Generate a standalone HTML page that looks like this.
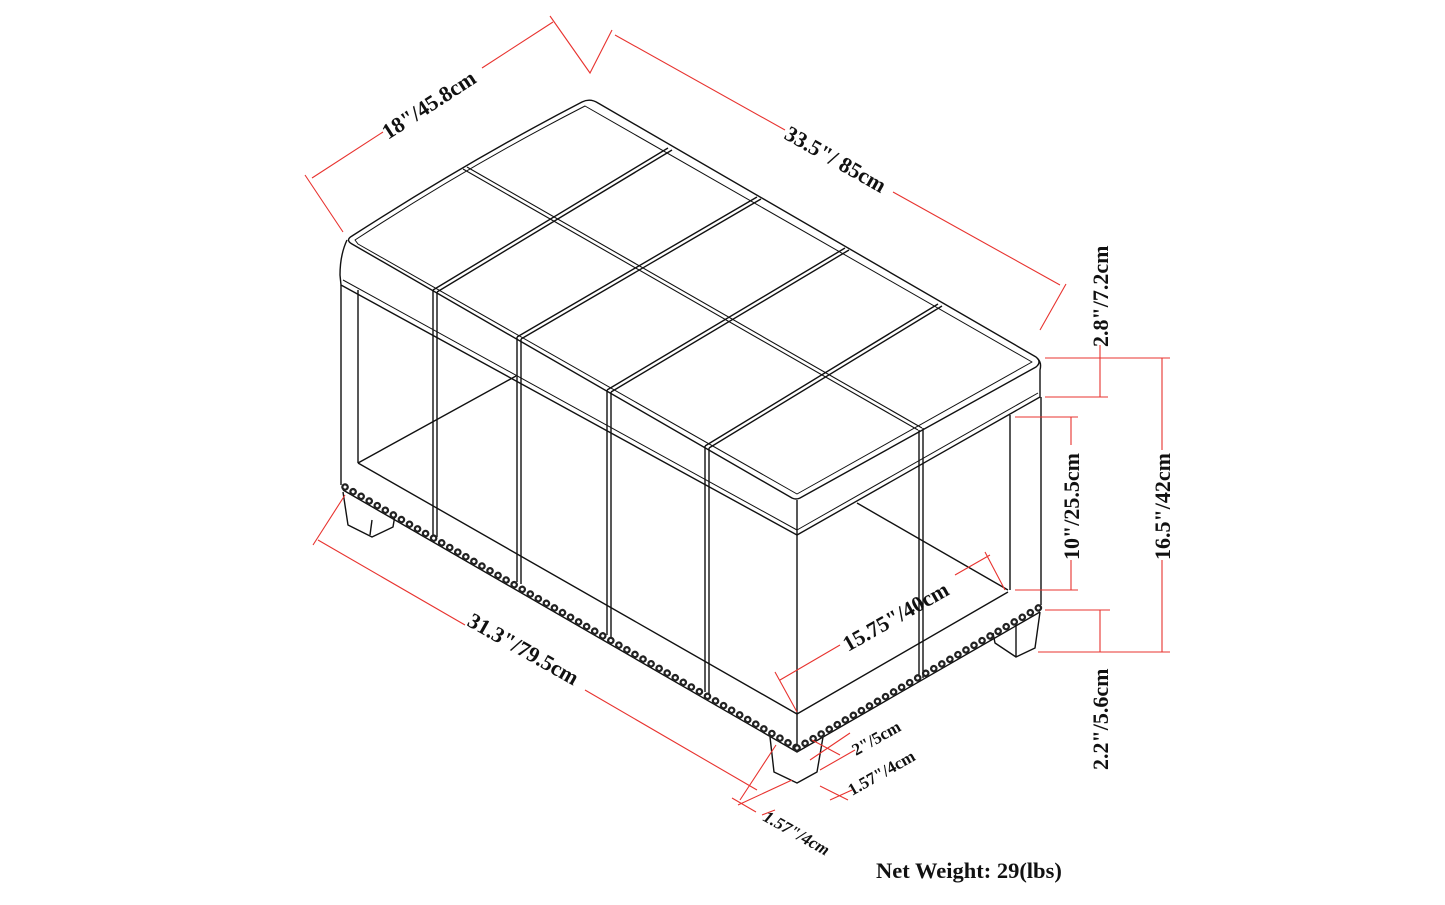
<!DOCTYPE html>
<html><head><meta charset="utf-8"><style>
html,body{margin:0;padding:0;background:#fff}
svg{display:block}
text{font-family:"Liberation Serif",serif;font-weight:bold;fill:#111}
</style></head><body>
<svg width="1445" height="905" viewBox="0 0 1445 905" xmlns="http://www.w3.org/2000/svg">
<g fill="none" stroke="#111" stroke-width="1.4" stroke-linejoin="round">
<path d="M352,236 Q470,160 582,102 Q590,98 598,103 L1036,357 Q1042,362 1036,367 L800,498 Q796,500 792,498 L352,244 Q345,240 352,236 Z"/>
<path d="M355,240 Q470,165 585,106 L1032,362 L797,494 L358,244 Z" stroke-width="1"/>
<path d="M347,240 Q340,255 340,275 L341,285 L797,535 L1040,397 L1040,370 Q1042,362 1037,358"/>
<path d="M343,280 L797,530 L1038,393" stroke-width="1"/>
<path d="M797,500 L797,535"/>
<path d="M341,285 L341,485 M358,290 L358,463 M797,535 L797,750 M1041,397 L1041,605 M1010,415 L1010,590"/>
<path d="M358,463 L797,714 L1008,592"/>
<path d="M358,463 L516,376 M857,503 L1008,590"/>
<path d="M343,490 L797,752 L1040,612"/>
<path d="M343,492 L348,525 L372,537 L393,527 L395,515"/>
<path d="M370,535 L372,520"/>
<path d="M770,737 L774,772 L797,783 L817,772 L823,737"/>
<path d="M993,633 L995,643 L1016,657 L1035,648 L1040,612 M1016,657 L1016,625"/>
<path d="M463,169 L918,430 M467,167 L922,428" stroke-width="1.1"/>
<path d="M433,290 L668,148 M437,292 L672,150"/>
<path d="M517,337 L757,197 M521,339 L761,199"/>
<path d="M607,390 L845,248 M611,392 L849,250"/>
<path d="M705,446 L938,304 M709,448 L942,306"/>
<path d="M433,290 L433,535 M437,292 L437,537 M517,337 L517,582 M521,339 L521,584 M607,390 L607,635 M611,392 L611,637 M705,446 L705,692 M709,448 L709,694 M919,430 L919,680 M923,428 L923,678"/>
</g>
<g stroke-linecap="round" fill="none">
<line x1="345" y1="487" x2="797" y2="748" stroke="#222" stroke-width="7.5" stroke-dasharray="0.1 9.2"/>
<line x1="345" y1="487" x2="797" y2="748" stroke="#fff" stroke-width="3" stroke-dasharray="0.1 9.2"/>
<line x1="797" y1="748" x2="1040" y2="607" stroke="#222" stroke-width="7.5" stroke-dasharray="0.1 9.2"/>
<line x1="797" y1="748" x2="1040" y2="607" stroke="#fff" stroke-width="3" stroke-dasharray="0.1 9.2"/>
</g>
<g stroke="#e8332f" stroke-width="1.1" fill="none">
<path d="M305,175 L343,232 M550,16 L590,73 L612,30"/>
<path d="M312,178 L383,132 M482,68 L553,22"/>
<path d="M615,35 L785,130 M893,192 L1060,285 M1040,330 L1066,284"/>
<path d="M1045,358 L1170,358 M1045,397 L1108,397 M1100,345 L1100,397"/>
<path d="M1015,417 L1078,417 M1015,590 L1078,590 M1071,417 L1071,445 M1071,560 L1071,590"/>
<path d="M1045,610 L1110,610 M1038,652 L1170,652 M1100,610 L1100,652"/>
<path d="M1162,358 L1162,450 M1162,560 L1162,652"/>
<path d="M313,545 L345,495 M318,540 L465,625 M585,690 L757,790 M740,800 L776,745"/>
<path d="M775,672 L797,712 M780,680 L840,645 M955,575 L990,555 M985,552 L1005,590"/>
<path d="M812,740 L840,755 M810,760 L850,733 M820,770 L855,750 M820,786 L848,800 M830,800 L852,790"/>
<path d="M732,798 L756,812 M738,805 L792,780 M762,815 L775,810"/>
</g>
<g font-size="22">
<text transform="translate(388,140) rotate(-33)">18"/45.8cm</text>
<text transform="translate(783,138) rotate(29.5)">33.5"/ 85cm</text>
<text transform="translate(466,625) rotate(29.5)">31.3"/79.5cm</text>
<text transform="translate(848,652) rotate(-29.5)">15.75"/40cm</text>
<text transform="translate(1108,347) rotate(-90)">2.8"/7.2cm</text>
<text transform="translate(1079,560) rotate(-90)">10"/25.5cm</text>
<text transform="translate(1170,560) rotate(-90)">16.5"/42cm</text>
<text transform="translate(1108,770) rotate(-90)">2.2"/5.6cm</text>
</g>
<g font-size="17">
<text transform="translate(856,756) rotate(-29.5)">2"/5cm</text>
<text transform="translate(852,796) rotate(-29.5)">1.57"/4cm</text>
<text transform="translate(762,820) rotate(29.5)" font-style="italic">1.57"/4cm</text>
</g>
<text x="876" y="878" font-size="22.5">Net Weight: 29(lbs)</text>
</svg>
</body></html>
